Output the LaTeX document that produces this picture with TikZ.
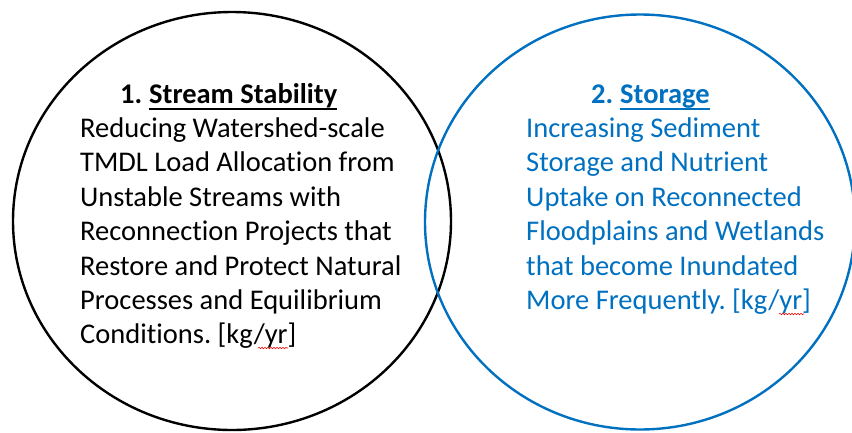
\documentclass[tikz,border=0pt]{standalone}
\usepackage{fontspec}
\setmainfont[Ligatures=NoCommon]{Carlito}
\frenchspacing
\usepackage{tikz}
\usetikzlibrary{shapes.geometric,decorations.pathmorphing}
\definecolor{storblue}{RGB}{0,112,192}
\tikzset{
  ring/.style={ellipse,draw,line width=2.4pt,inner sep=0pt},
  bodytext/.style={inner sep=0pt,anchor=base west,font=\fontsize{28.5}{34}\selectfont},
  headtext/.style={bodytext,font=\fontsize{28.5}{34}\selectfont\bfseries},
  headline/.style={line width=1.8pt},
  spell/.style={red,line width=0.6pt,decorate,decoration={snake,amplitude=0.7pt,segment length=3pt}}
}

\begin{document}
\begin{tikzpicture}[x=1pt,y=-1pt]
\useasboundingbox (0,0) rectangle (852,432);
%First circle
  \node[ring,minimum width=438pt,minimum height=418pt] (stab) at (232,221) {};
% Second circle
  \node[ring,draw=storblue,minimum width=430pt,minimum height=415pt] (stor) at (640,222) {};

%Stream stability text
  \node[headtext] (stabnum) at (120,103) {1.};
  \node[headtext] (stabhead) at ([xshift=6.5pt]stabnum.base east) {Stream Stability};
  \draw[headline] ([yshift=-6pt]stabhead.base west) -- ([yshift=-6pt]stabhead.base east);
  \foreach \txt [count=\i from 1] in {Reducing Watershed-scale,TMDL Load Allocation from,Unstable Streams with,Reconnection Projects that,Restore and Protect Natural,Processes and Equilibrium,Conditions. [kg/yr]}
    \node[bodytext] (stab\i) at (80,103+34.4*\i) {\txt};
  \coordinate (stabyr) at (258,348);
  \draw[spell] (stabyr) -- ++(30,0);

%Storage text
  \node[headtext,text=storblue] (stornum) at (591,103) {2.};
  \node[headtext,text=storblue] (storhead) at ([xshift=6.5pt]stornum.base east) {Storage};
  \draw[headline,storblue] ([yshift=-6pt]storhead.base west) -- ([yshift=-6pt]storhead.base east);
  \foreach \txt [count=\i from 1] in {Increasing Sediment,Storage and Nutrient,Uptake on Reconnected,Floodplains and Wetlands,that become Inundated,More Frequently. [kg/yr]}
    \node[bodytext,text=storblue] (stor\i) at (526,103+34.4*\i) {\txt};
  \coordinate (storyr) at (779,314);
  \draw[spell] (storyr) -- ++(25,0);
\end{tikzpicture}
\end{document}
